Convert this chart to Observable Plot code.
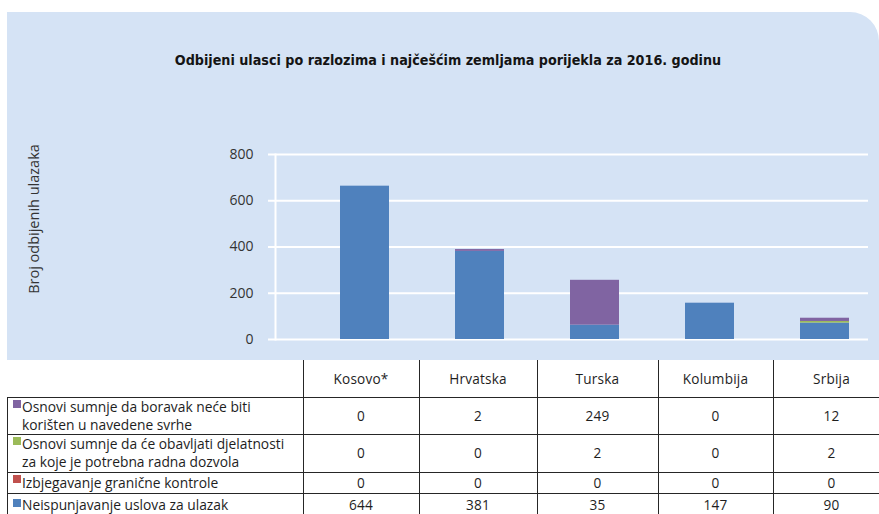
<!DOCTYPE html>
<html>
<head>
<meta charset="utf-8">
<script src="https://cdn.jsdelivr.net/npm/d3@7"></script>
<script src="https://cdn.jsdelivr.net/npm/@observablehq/plot@0.6"></script>
<style>
  html, body { margin: 0; padding: 0; background: #ffffff; }
  #wrap { position: relative; width: 879px; height: 514px; overflow: hidden; font-family: "Open Sans", "Noto Sans", sans-serif; color: #222; }
  #panel { position: absolute; left: 7px; top: 12px; width: 872px; height: 348px; background: #d5e3f5; border-top-right-radius: 29px; }
  #title { position: absolute; left: 0; width: 896px; top: 52px; text-align: center; font-family: "Liberation Sans Narrow", "DejaVu Sans Condensed", "Roboto", sans-serif; font-weight: bold; font-size: 14.2px; color: #141414; white-space: nowrap; }
  #ylab { position: absolute; left: 33px; top: 219px; transform: translate(-50%, -50%) rotate(-90deg); font-size: 14.5px; color: #333; white-space: nowrap; }
  #chart { position: absolute; left: 0; top: 0; }
  .hl { position: absolute; height: 1px; background: #262626; }
  .vl { position: absolute; width: 1px; background: #262626; }
  .cell { position: absolute; display: flex; align-items: center; justify-content: center; font-size: 13.6px; color: #1e1e1e; line-height: 18px; letter-spacing: 0.2px; }
  .lab { position: absolute; font-size: 13.8px; color: #1e1e1e; line-height: 18px; white-space: pre-line; display: flex; align-items: center; }
  .sw { position: absolute; width: 8px; height: 8px; }
</style>
</head>
<body>
<div id="wrap">
  <div id="panel"></div>
  <div id="title"></div>
  <div id="ylab"></div>
  <div id="chart"></div>
  <div id="table"></div>
</div>
<script>
// ---- data ----
const titleText = "Odbijeni ulasci po razlozima i najčešćim zemljama porijekla za 2016. godinu";
const yLabel = "Broj odbijenih ulazaka";
const countries = ["Kosovo*", "Hrvatska", "Turska", "Kolumbija", "Srbija"];
// reasons, bottom of stack first
const reasons = [
  "Neispunjavanje uslova za ulazak",
  "Izbjegavanje granične kontrole",
  "Osnovi sumnje da će obavljati djelatnosti\nza koje je potrebna radna dozvola",
  "Osnovi sumnje da boravak neće biti\nkorišten u navedene svrhe"
];
const reasonColors = ["#4f81bd", "#c0504d", "#9bbb59", "#8064a2"];
// values printed in the data table
const tableUslova   = [644, 381, 35, 147, 90];
const tableGranicna = [0, 0, 0, 0, 0];
const tableRadna    = [0, 0, 2, 0, 2];
const tableBoravak  = [0, 2, 249, 0, 12];
// bar segment heights as drawn in the picture
const barUslova   = [663, 381, 62, 157, 71];
const barGranicna = [0, 0, 0, 0, 0];
const barRadna    = [0, 0, 0, 0, 7];
const barBoravak  = [0, 8, 194, 0, 14];
const yTicks = [0, 200, 400, 600, 800];

// ---- build ----
document.getElementById("title").textContent = titleText;
document.getElementById("ylab").textContent = yLabel;

const barSeries = [barUslova, barGranicna, barRadna, barBoravak];
const bars = [];
reasons.forEach((r, i) => countries.forEach((c, j) => bars.push({country: c, reason: r, value: barSeries[i][j]})));

const chart = Plot.plot({
  width: 879,
  height: 360,
  marginTop: 154,
  marginBottom: 21,
  marginLeft: 275,
  marginRight: 11,
  style: {background: "transparent", fontFamily: "'Open Sans', sans-serif", fontSize: "14px", color: "#333"},
  x: {domain: countries, range: [305.7, 883.7], paddingInner: 0.576, paddingOuter: 0.288, axis: null},
  y: {domain: [0, 800], axis: null},
  color: {domain: reasons, range: reasonColors},
  marks: [
    Plot.gridY(yTicks, {stroke: "white", strokeOpacity: 1, strokeWidth: 2}),
    Plot.frame({anchor: "left", stroke: "white", strokeWidth: 2}),
    Plot.axisY(yTicks, {tickSize: 7, tickPadding: 15, stroke: "white", strokeWidth: 2, fill: "#333", label: null, fontSize: 14}),
    Plot.barY(bars, {x: "country", y: "value", fill: "reason", order: null})
  ]
});
document.getElementById("chart").appendChild(chart);

// ---- data table ----
const tbl = document.getElementById("table");
const colEdges = [7, 303, 419, 537, 658, 773, 890];
const rowEdges = [360, 397, 434, 472, 493, 516];
const tableRows = [
  {label: reasons[3], color: reasonColors[3], vals: tableBoravak},
  {label: reasons[2], color: reasonColors[2], vals: tableRadna},
  {label: reasons[1], color: reasonColors[1], vals: tableGranicna},
  {label: reasons[0], color: reasonColors[0], vals: tableUslova}
];
function add(cls, css, text) {
  const d = document.createElement("div");
  d.className = cls;
  Object.assign(d.style, css);
  if (text !== undefined) d.textContent = text;
  tbl.appendChild(d);
  return d;
}
// horizontal lines
for (let k = 1; k < rowEdges.length - 1; k++) {
  add("hl", {left: colEdges[0] + "px", width: (879 - colEdges[0]) + "px", top: rowEdges[k] + "px"});
}
// vertical lines
add("vl", {left: colEdges[0] + "px", top: rowEdges[1] + "px", height: (rowEdges[5] - rowEdges[1]) + "px"});
for (let k = 1; k < colEdges.length - 1; k++) {
  add("vl", {left: colEdges[k] + "px", top: rowEdges[0] + "px", height: (rowEdges[5] - rowEdges[0]) + "px"});
}
// header
countries.forEach((c, j) => {
  add("cell", {left: colEdges[j + 1] + "px", width: (colEdges[j + 2] - colEdges[j + 1]) + "px", top: rowEdges[0] + "px", height: (rowEdges[1] - rowEdges[0]) + "px"}, c);
});
// body
tableRows.forEach((row, i) => {
  const top = rowEdges[i + 1], h = rowEdges[i + 2] - rowEdges[i + 1];
  add("lab", {left: (colEdges[0] + 15) + "px", width: (colEdges[1] - colEdges[0] - 12) + "px", top: top + "px", height: h + "px"}, row.label);
  add("sw", {left: (colEdges[0] + 6) + "px", top: (top + (i === 3 ? 6 : 3)) + "px", background: row.color});
  row.vals.forEach((v, j) => {
    add("cell", {left: colEdges[j + 1] + "px", width: (colEdges[j + 2] - colEdges[j + 1]) + "px", top: top + "px", height: h + "px"}, String(v));
  });
});
</script>
</body>
</html>
